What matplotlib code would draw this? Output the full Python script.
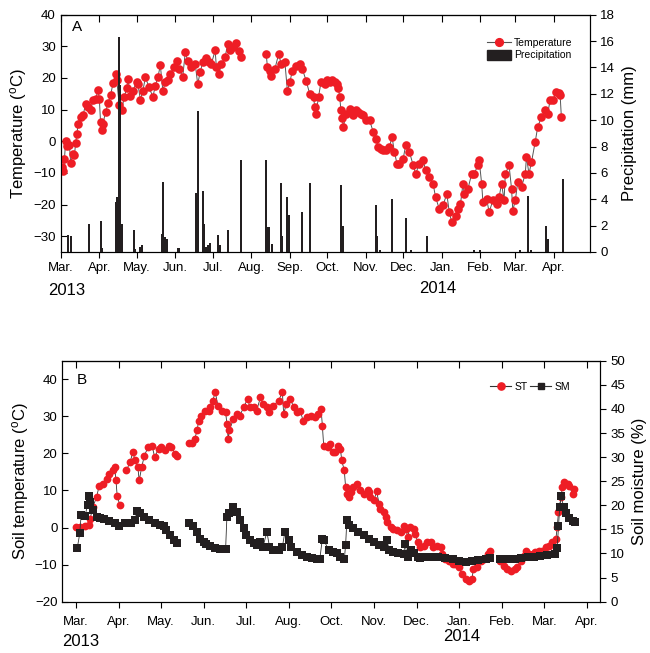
import numpy as np
import pandas as pd
import matplotlib
matplotlib.use('Agg')
import matplotlib.pyplot as plt
from matplotlib.lines import Line2D
from matplotlib.patches import Patch

plt.rcParams['font.family'] = ['Liberation Sans', 'DejaVu Sans']
plt.rcParams['mathtext.default'] = 'regular'

# ---- panel A: air temperature (daily), days after 1 Mar 2013
nan = np.nan
temp_day = [1, 2, 3, 4, 5, 7, 8, 10, 11, 12, 13, 14, 16, 18, 20, 22, 24, 26, 28, 30,
            31, 32, 33, 34, 36, 38, 40, 42, 44, 45, 47, 49, 51, 53, 54, 56, 58, 61, 62, 64,
            66, 68, 71, 74, 76, 78, 80, 82, 84, 86, 88, 91, 93, 95, 98, 100, 102, 105, 108, 110,
            112, 114, 117, 119, 121, 124, 125, 127, 129, 132, 134, 136, 138, 141, 143, 145, 155,
            165, 166, 168, 169, 172, 175, 177, 180, 182, 184, 186, 189, 192, 194, 197, 200, 203, 204,
            205, 207, 209, 212, 214, 216, 218, 220, 222, 223, 224, 225, 226, 227, 229, 232, 235, 237,
            239, 241, 243, 245, 248, 251, 253, 255, 257, 259, 261, 264, 266, 268, 270, 272, 275, 277,
            280, 283, 285, 288, 291, 293, 296, 299, 301, 304, 307, 310, 312, 314, 317, 319, 321, 323,
            324, 327, 330, 332, 335, 336, 338, 339, 342, 344, 347, 350, 352, 354, 356, 357, 360, 362,
            363, 365, 367, 370, 373, 374, 376, 378, 381, 383, 386, 389, 391, 393, 395, 398, 400, 401,
            402]
temp_val = [-8.1, -9.5, -5.5, 0, -1.5, -1.3, -6.8, -4.1, -4.5, -0.5, 2.4, 5.6, 7.7, 8.2, 11.9, 10.9, 10, 13, 13.5, 16.1,
            13.4, 6, 3.5, 5.6, 9.3, 12, 14.5, 18.3, 21.3, 19.3, 11.4, 9.8, 14, 16.7, 19.8, 14.3, 16, 18.7, 18, 13.1,
            16, 20.2, 17, 14, 17.6, 20.2, 24, 16, 18.7, 19.4, 21.3, 23.4, 25.5, 22.9, 20.4, 28.1, 25.5, 23.4, 24.4, 18.1,
            21.8, 25, 26.4, 25, 24.5, 28.7, 23.4, 21.3, 24.4, 26.6, 30.6, 28.7, 29.8, 31, 28.5, 26.6, nan,
            27.6, 23.4, 22.3, 20.7, 22.9, 27.6, 24.4, 25, 16, 18.7, 22.3, 23.9, 24.4, 22.9, 19.2, 14.9, 14, 10.8,
            8.6, 14, 18.7, 18.2, 19.5, 18.8, 19.5, 18.8, 18, 16.7, 14, 9.8, 7.2, 4.5, 8.7, 10.3, 8.2, 9.8,
            9.3, 8.5, 8.2, 6.6, 6.6, 2.9, 0.8, -1.8, -2.3, -2.8, -2.9, -1.8, 1.4, -3.4, -7.1, -7.1, -5.5, -1.3,
            -3.4, -7.6, -10.3, -7.1, -6, -9.2, -11.3, -13.4, -17.7, -21.4, -20.3, -16.6, -22.4, -25.6, -23.5, -21.4, -19.8, -13.4,
            -16.6, -15, -10.3, -10.3, -7.6, -6, -13.4, -19.2, -18.2, -22.4, -18.7, -19.8, -17.7, -13.4, -18.7, -10.3, -7.6, -15,
            -21.9, -18.7, -12.9, -14.5, -10.3, -5, -10.3, -6.6, -0.2, 4.5, 7.7, 9.8, 8.7, 13, 13, 15.6, 15.1, 14.6,
            7.7]

rain_day = [6, 8, 23, 32, 33, 44, 45, 47, 48, 49, 59, 60, 64, 65, 81, 82, 84, 85, 94, 95,
            109, 110, 114, 115, 117, 118, 120, 126, 128, 134, 145, 165, 166, 167, 170, 177, 178, 182, 183, 194,
            200, 225, 227, 253, 254, 256, 266, 277, 281, 294, 332, 337, 369, 375, 378, 390, 391, 403]
rain_mm = [1.3, 1.2, 2.1, 2.35, 0.3, 3.8, 4.2, 16.3, 12.7, 2.1, 1.7, 0.2, 0.4, 0.5, 1.4, 5.3, 1.1, 1.0, 0.3, 0.3,
           4.45, 10.7, 4.6, 2.1, 0.4, 0.5, 0.7, 1.3, 0.5, 1.7, 7.0, 7.0, 1.9, 1.9, 0.6, 5.2, 1.2, 4.2, 2.8, 3.0,
           5.2, 5.1, 2.0, 3.6, 1.2, 0.15, 4.0, 2.6, 0.15, 1.2, 0.15, 0.15, 0.15, 4.25, 0.15, 2.0, 0.95, 5.5]

# ---- panel B: soil temperature and soil moisture
st_day = [0, 3, 7, 10, 11, 13, 16, 18, 21, 24, 26, 29, 30, 31, 32, 34, 36, 39, 42, 44,
          46, 48, 49, 51, 53, 56, 59, 61, 64, 66, 69, 72, 74, 77, 78, 83, 88, 90, 92, 94,
          95, 97, 100, 103, 104, 106, 108, 110, 113, 116, 117, 118, 119, 122, 125, 127, 130, 133, 135, 138,
          140, 143, 145, 148, 150, 153, 157, 160, 161, 163, 166, 169, 171, 174, 176, 179, 182, 185, 188, 190,
          191, 192, 195, 197, 199, 201, 203, 205, 206, 208, 209, 210, 212, 213, 215, 218, 220, 223, 226, 227,
          228, 231, 233, 235, 236, 239, 240, 241, 244, 246, 249, 252, 254, 256, 257, 259, 262, 263, 265, 267,
          270, 272, 275, 277, 280, 283, 284, 286, 289, 292, 294, 297, 299, 302, 305, 307, 308, 311, 314, 316,
          319, 321, 325, 329, 332, 334, 337, 340, 342, 345, 347, 349, 351, 354, 356, 359, 361, 364, 367, 369,
          372, 373, 374, 376, 377, 378, 381, 382, 385, 386]
st_val = [0.1, 0.1, 0.5, 0.8, 2.3, 5.5, 8.2, 11.3, 11.8, 13.1, 14.5, 15.4, 16.3, 12.8, 8.4, 6.1, nan, 15.4, 17.6, 20.3,
          18.1, 16.3, 12.7, 16.3, 19.4, 21.7, 22.1, 19, 21.2, 21.7, 20.8, 22.1, 21.7, 19.9, 19.4, nan, 22.7, 22.7, 23.9, 26.2,
          28.8, 30.2, 31.5, 31.5, 32.4, 34.2, 36.5, 32.9, 31.5, 31.1, 28, 23.9, 26.2, 29.3, 30.6, 30.2, 32.4, 34.7, 32.4, 32.4,
          31.5, 35.1, 33.3, 32.4, 31.1, 32.9, 34.2, 36.5, 30.6, 33.3, 34.7, 32.4, 31.1, 31.5, 28.8, 29.7, 30.2, 29.7, 30.6, 32,
          27.5, 22.1, 21.7, 22.6, 20.3, 20.3, 22.1, 21.2, 18.1, 15.4, 10.9, 9.1, 8.2, 9.6, 10.9, 11.8, 10, 9.1, 10, 9.6,
          8.2, 7.3, 9.8, 6.4, 5, 4.1, 2.8, 1.4, 0.1, -0.4, -0.6, -1.3, 0.5, -0.4, -2.6, 0.1, -0.4, -1.7, -4, -5.3,
          -4.9, -4, -4, -5.3, -4.9, -5.3, -7.1, -8.5, -8.9, -9.8, -9.8, -10.7, -12.5, -13.9, -14.3, -13.9, -11.2, -10.7, -8.9, -8.5,
          -7.1, -6.2, nan, -8.9, -10.3, -11.2, -11.6, -11.2, -10.7, -8.9, -7.6, -6.2, -7.1, -7.1, -6.7, -6.2, -6.2, -5.3, -4.9, -4,
          -3.1, 0.1, 4.1, 8.2, 10.9, 12.2, 11.8, 11.3, 9.1, 10.4]

sm_day = [1, 3, 4, 7, 9, 10, 11, 13, 16, 19, 22, 26, 30, 33, 35, 38, 43, 46, 47, 50,
          53, 57, 61, 65, 68, 70, 73, 76, 78, 83, 88, 91, 94, 96, 99, 101, 104, 108, 112, 116,
          117, 119, 122, 125, 127, 130, 132, 135, 138, 140, 143, 145, 148, 150, 153, 157, 160, 162, 165, 167,
          171, 175, 179, 183, 187, 189, 191, 192, 196, 199, 202, 205, 208, 209, 210, 212, 215, 219, 223, 227,
          231, 235, 239, 241, 243, 246, 250, 254, 255, 257, 260, 262, 265, 267, 271, 276, 281, 286, 292, 297,
          302, 307, 312, 318, 321, 325, 329, 334, 340, 345, 350, 355, 360, 365, 371, 373, 374, 375, 376, 378,
          380, 382, 385, 387]
sm_val = [11.1, 14.2, 18, 17.8, 20, 21.9, 20.7, 19, 17.6, 17.3, 17.1, 16.8, 16.3, 15.7, nan, 16.3, 16.4, 16.9, 18.9, 18.3,
          17.5, 16.9, 16.4, 15.9, 15.6, 14.9, 13.8, 12.9, 12.2, nan, 16.3, 15.7, 14.5, 13.1, 12.4, 11.9, 11.5, 11.2, 11, 10.9,
          17.6, 18.3, 19.7, 18.7, 16.9, 15.2, 13.8, 12.8, 12.1, 11.8, 12.4, 11.4, 14.5, 11.4, 10.7, 10.7, 11.4, 14.5, 12.8, 11.4,
          10.4, 9.7, 9.3, 9, 8.8, 8.8, 13.1, 12.8, 10.7, 10.4, 10, 9.3, 8.8, 11.7, 16.9, 15.9, 15.2, 14.5, 13.8, 13.1,
          12.4, 11.8, 11.3, 12.7, 10.7, 10.4, 10, 9.8, 12, 9.3, 10.7, 10, 9.3, 9, 9.2, 9.3, 9.2, 9, 8.8, 8.5,
          8.3, 8.4, 8.6, 8.9, 9.1, nan, 8.9, 8.8, 8.9, 9.1, 9.2, 9.3, 9.5, 9.6, 9.9, 11.1, 15.6, 19.7, 21.9, 19.7,
          18.3, 17.3, 16.8, 16.6]

b_labels = ['Mar.', 'Apr.', 'May.', 'Jun.', 'Jul.', 'Aug.', 'Oct.', 'Nov.', 'Dec.',
            'Jan.', 'Feb.', 'Mar.', 'Apr.']

RED = '#EE1D25'
BLK = '#231F20'

fig = plt.figure(figsize=(6.5, 6.53), dpi=100)

# ================= panel A =================
axA = fig.add_axes([0.0934, 0.6141, 0.8143, 0.3634])
axA2 = axA.twinx()

start = pd.Timestamp('2013-03-01')
months = pd.date_range('2013-03-01', '2014-04-01', freq='MS')
a_ticks = (months - start).days.values
a_labels = [m.strftime('%b.') for m in months]

axA.plot(temp_day, temp_val, color='#555555', lw=0.7, marker='o', ms=6.2,
         mfc=RED, mec=RED, mew=0, zorder=3)
axA2.bar(rain_day, rain_mm, width=1.6, color=BLK, lw=0, zorder=3)

axA.set_xlim(0, 425)
axA.set_ylim(-35, 40)
axA.set_yticks(np.arange(-30, 41, 10))
axA2.set_ylim(0, 18)
axA2.set_yticks(np.arange(0, 19, 2))
axA.set_xticks(a_ticks)
axA.set_xticklabels(a_labels)

axA.set_ylabel('Temperature ($^o$C)', fontsize=12, labelpad=3)
axA2.set_ylabel('Precipitation (mm)', fontsize=12, labelpad=5)

axA.text(0.021, 0.948, 'A', transform=axA.transAxes, fontsize=11, va='center')
axA.text(0.011, -0.162, '2013', transform=axA.transAxes, fontsize=12, ha='center', va='center')
axA.text(0.713, -0.152, '2014', transform=axA.transAxes, fontsize=12, ha='center', va='center')

hA = [Line2D([], [], color='#555555', lw=0.8, marker='o', ms=5.6, mfc=RED, mec=RED),
      Patch(facecolor=BLK, edgecolor=BLK)]
axA2.legend(hA, ['Temperature', 'Precipitation'], loc='upper left',
            bbox_to_anchor=(0.795, 0.925), frameon=False, fontsize=7.5,
            handlelength=2.3, handleheight=1.1, handletextpad=0.3,
            labelspacing=0.15, borderpad=0)

# ================= panel B =================
axB = fig.add_axes([0.0958, 0.0786, 0.8273, 0.369])
axB2 = axB.twinx()

b_ticks = np.arange(13) * 33

axB.plot(st_day, st_val, color='#333333', lw=0.6, marker='o', ms=5.6,
         mfc=RED, mec=RED, mew=0, zorder=3)
axB2.plot(sm_day, sm_val, color='#333333', lw=0.6, marker='s', ms=5.2,
          mfc=BLK, mec=BLK, mew=0, zorder=3)

axB.set_xlim(-10.6, 406.2)
axB.set_ylim(-20, 45)
axB.set_yticks(np.arange(-20, 41, 10))
axB2.set_ylim(0, 50)
axB2.set_yticks(np.arange(0, 51, 5))
axB.set_xticks(b_ticks)
axB.set_xticklabels(b_labels)

axB.set_ylabel('Soil temperature ($^o$C)', fontsize=12, labelpad=3)
axB2.set_ylabel('Soil moisture (%)', fontsize=12, labelpad=5)

axB.text(0.027, 0.922, 'B', transform=axB.transAxes, fontsize=11, va='center')
axB.text(0.035, -0.167, '2013', transform=axB.transAxes, fontsize=12, ha='center', va='center')
axB.text(0.743, -0.146, '2014', transform=axB.transAxes, fontsize=12, ha='center', va='center')

hB = [Line2D([], [], color='#333333', lw=0.8, marker='o', ms=5.2, mfc=RED, mec=RED),
      Line2D([], [], color='#333333', lw=0.8, marker='s', ms=4.8, mfc=BLK, mec=BLK)]
axB2.legend(hB, ['ST', 'SM'], loc='upper left', ncol=2,
            bbox_to_anchor=(0.786, 0.935), frameon=False, fontsize=7.5,
            handlelength=2.0, handletextpad=0.3, columnspacing=0.3, borderpad=0)

# ---- tick styling shared by both panels
for ax, ax2, xpad, ticks in [(axA, axA2, 3.5, a_ticks), (axB, axB2, 6.5, b_ticks)]:
    ax.tick_params(axis='x', direction='out', length=4, width=0.8, labelsize=9.5,
                   pad=xpad, top=False)
    ax.tick_params(axis='y', direction='in', length=4, width=0.8, labelsize=9.5, right=False)
    ax2.tick_params(axis='y', direction='out', length=4, width=0.8, labelsize=9.5)
    sec = ax.secondary_xaxis('top')
    sec.set_xticks(ticks)
    sec.tick_params(direction='in', length=5, width=0.8, labeltop=False)
    for a in (ax, ax2):
        for s in a.spines.values():
            s.set_linewidth(0.8)

fig.savefig('out.png', dpi=100)
